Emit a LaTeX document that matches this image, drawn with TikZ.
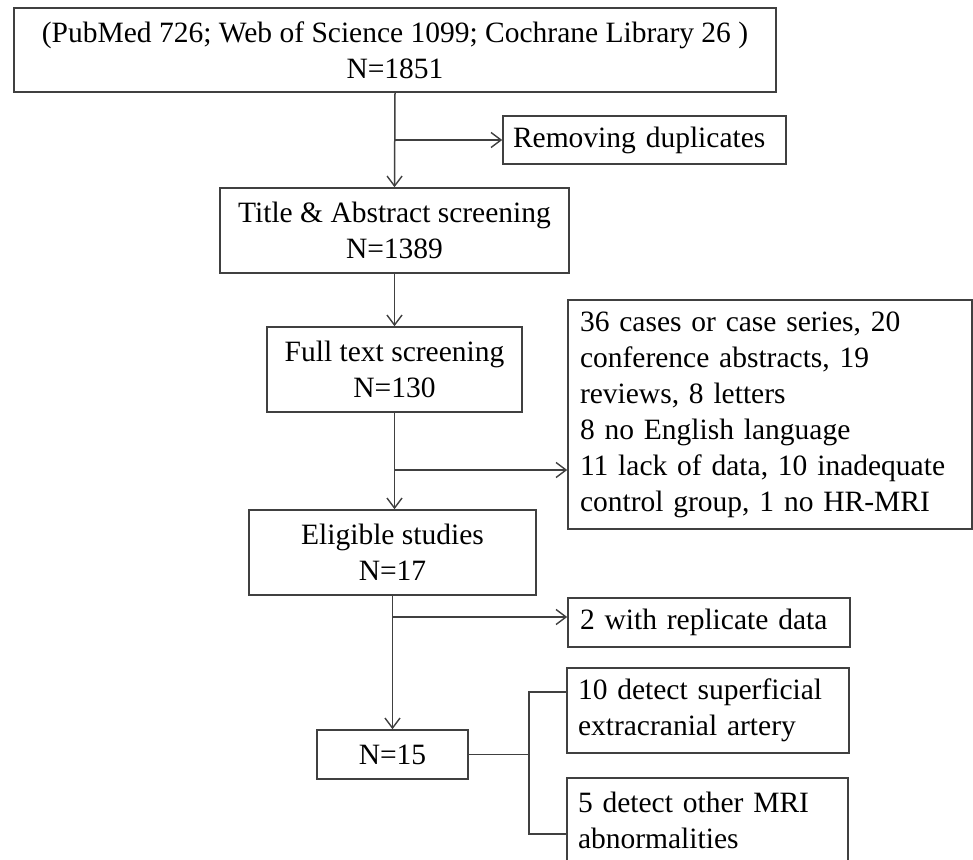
\documentclass[tikz,border=0pt]{standalone}
\usepackage{fontspec}
\setmainfont{Liberation Serif}
\usetikzlibrary{arrows.meta}
\begin{document}
\begin{tikzpicture}[x=1pt,y=-1pt,
  box/.style={draw=black!75, line width=1.6pt, inner sep=0pt, font=\fontsize{29.5}{36}\selectfont, align=center},
  lbox/.style={box, align=left},
  conn/.style={draw=black!75, line width=1.5pt},
  arr/.style={conn, -{Straight Barb[length=10pt,width=15pt,line width=1.4pt]}}]
\clip (0,0) rectangle (973,859);
\fill[white] (0,0) rectangle (973,859);

\node[box, minimum width=762pt, minimum height=84pt] (top) at (395,50)
  {(PubMed 726; Web of Science 1099; Cochrane Library 26 )\\N=1851};
\node[lbox, minimum width=283pt, minimum height=48pt, text width=263pt, inner xsep=10pt] (dup) at (644.5,140)
  {Removing duplicates};
\node[box, minimum width=349pt, minimum height=85pt] (title) at (394.5,230.5)
  {Title \& Abstract screening\\N=1389};
\node[box, minimum width=255pt, minimum height=85pt] (full) at (394.5,369.5)
  {Full text screening\\N=130};
\node[lbox, minimum width=404pt, minimum height=229pt, text width=380pt, inner xsep=12pt] (excl) at (770,414.5)
  {36 cases or case series, 20\\conference abstracts, 19\\reviews, 8 letters\\8 no English language\\11 lack of data, 10 inadequate\\control group, 1 no HR-MRI};
\node[box, minimum width=287pt, minimum height=85pt] (elig) at (392.5,552.5)
  {Eligible studies\\N=17};
\node[lbox, minimum width=282pt, minimum height=49pt, text width=258pt, inner xsep=12pt] (rep) at (709,622.5)
  {2 with replicate data};
\node[box, minimum width=151pt, minimum height=49pt] (n15) at (392.5,754.5)
  {N=15};
\node[lbox, minimum width=282pt, minimum height=85pt, text width=260pt, inner xsep=11pt] (sup) at (708,710.5)
  {10 detect superficial\\extracranial artery};
\node[lbox, minimum width=281pt, minimum height=85pt, text width=259pt, inner xsep=11pt] (oth) at (707.5,820.5)
  {5 detect other MRI\\abnormalities};

\coordinate (exy) at (0,470);
\coordinate (repy) at (0,617);
\coordinate (bx) at (529,0);
\coordinate (by1) at (0,692);
\coordinate (by2) at (0,834);

\draw[arr] (top.south) -- (title.north);
\draw[arr] (top.south |- dup.west) -- (dup.west);
\draw[arr] (title.south) -- (title.south |- full.north);
\draw[arr] (full.south) -- (full.south |- elig.north);
\draw[arr] (full.south |- exy) -- (excl.west |- exy);
\draw[arr] (elig.south) -- (n15.north);
\draw[arr] (elig.south |- repy) -- (rep.west |- repy);
\draw[conn] (n15.east) -- (bx |- n15.east);
\draw[conn] (sup.west |- by1) -- (bx |- by1) -- (bx |- by2) -- (oth.west |- by2);
\end{tikzpicture}
\end{document}
